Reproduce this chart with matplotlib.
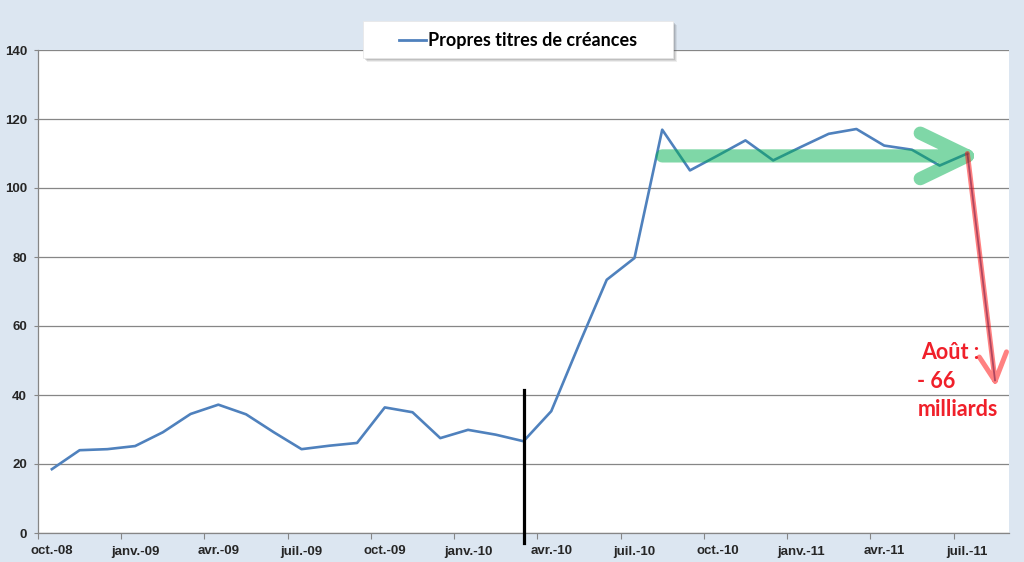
import numpy as np
import matplotlib
matplotlib.use('Agg')
import matplotlib.pyplot as plt
from matplotlib.patches import Rectangle
from matplotlib.lines import Line2D

plt.rcParams['font.family'] = ['Liberation Sans', 'DejaVu Sans']

# data (monthly, oct.-08 .. juil.-11)
values = [18.5, 24.0, 24.3, 25.2, 29.2, 34.5, 37.2, 34.4, 29.2, 24.3,
          25.3, 26.1, 36.4, 35.0, 27.5, 29.9, 28.5, 26.6, 35.3, 54.6,
          73.4, 79.7, 116.9, 105.1, 109.4, 113.8, 108.0, 111.9, 115.7, 117.1,
          112.3, 111.1, 106.5, 110.0]
tick_labels = ['oct.-08', 'janv.-09', 'avr.-09', 'juil.-09', 'oct.-09', 'janv.-10',
               'avr.-10', 'juil.-10', 'oct.-10', 'janv.-11', 'avr.-11', 'juil.-11']
series_name = 'Propres titres de créances'
n_cats = 35          # one empty month (août-11) at the end
marker_month = 17    # mars-10
plateau = 109.3
plateau_start = 22.0
drop = -66
note_lines = ['Août :', '- 66', 'milliards']

blue = '#4f81bd'
grid_c = '#868686'

fig = plt.figure(figsize=(10.24, 5.62), dpi=100, facecolor='#dce6f1')
ax = fig.add_axes([38 / 1024, 1 - 533 / 562, 971 / 1024, 483 / 562])
ax.set_facecolor('white')

x = np.arange(len(values))
ax.plot(x, values, color=blue, lw=1.9, zorder=3, solid_joinstyle='round')

ax.set_xlim(-0.5, n_cats - 0.5)
ax.set_ylim(0, 140)

# y axis
ax.set_yticks(np.arange(0, 141, 20))
ax.yaxis.grid(True, color=grid_c, lw=0.9)
ax.set_axisbelow(True)
ax.tick_params(axis='y', length=3, width=0.8, color=grid_c, pad=5,
               labelsize=9.5, labelcolor='#262626')
for t in ax.get_yticklabels():
    t.set_fontweight('bold')

# x axis: marks between categories, labels on categories
ax.set_xticks(np.arange(-0.5, n_cats - 1, 3))
ax.set_xticklabels([])
ax.set_xticks(np.arange(0, len(values), 3), minor=True)
ax.set_xticklabels(tick_labels, minor=True, fontsize=9.5, fontweight='bold', color='#262626')
ax.tick_params(axis='x', which='major', length=4, width=0.8, color=grid_c)
ax.tick_params(axis='x', which='minor', length=0, pad=9)

for s in ['top', 'right']:
    ax.spines[s].set_visible(False)
for s in ['left', 'bottom']:
    ax.spines[s].set_color(grid_c)
    ax.spines[s].set_linewidth(0.9)

# vertical marker
ax.plot([marker_month, marker_month], [-3, 41.5], color='black', lw=2.3,
        clip_on=False, zorder=5)

# green arrow (plateau): shaft + chevron as one path
tip = len(values) - 1
gx = [plateau_start, tip, np.nan, tip - 1.7, tip, tip - 1.7]
gy = [plateau, plateau, np.nan, plateau + 6.6, plateau, plateau - 6.6]
ax.plot(gx, gy, color='#00b050', alpha=0.5, lw=9.5, solid_capstyle='round',
        solid_joinstyle='round', zorder=4)

# red arrow (August drop)
last = values[-1]
end = last + drop
rx = [tip, tip + 1, np.nan, tip + 0.43, tip + 1, tip + 1.41]
ry = [last, end, np.nan, end + 7.0, end, end + 8.5]
ax.plot(rx, ry, color='#ff1a1a', alpha=0.55, lw=3.6, solid_capstyle='round',
        solid_joinstyle='round', zorder=6, clip_on=False)
ax.plot([tip, tip + 1], [last, end], color='#7a1f4a', lw=1.3, alpha=0.6,
        zorder=6, solid_capstyle='butt')

for k, line in enumerate(note_lines):
    ax.text(31.2 + (0.12 if k == 0 else 0), 50.4 - 8.3 * k, line, color='#f0202a',
            fontsize=15.5, fontweight='bold', family=['Lato', 'DejaVu Sans'],
            ha='left', va='baseline', zorder=7)

# legend box drawn by hand
W, H = 1024, 562
bx, by, bw, bh = 363, 58, 310, 37
for k, a in enumerate([0.10, 0.14, 0.18]):
    off = 3.5 - k
    fig.add_artist(Rectangle(((bx + off) / W, 1 - (by + off) / H), bw / W, bh / H,
                             transform=fig.transFigure, facecolor='#555555',
                             edgecolor='none', alpha=a))
fig.add_artist(Rectangle((bx / W, 1 - by / H), bw / W, bh / H, transform=fig.transFigure,
                         facecolor='white', edgecolor='#e6e6e6', lw=0.5))
fig.add_artist(Line2D([399 / W, 426 / W], [1 - 39.5 / H, 1 - 39.5 / H],
                      transform=fig.transFigure, color=blue, lw=2))
fig.text(428 / W, 1 - 45.7 / H, series_name, fontsize=13, fontweight='bold',
         family=['Liberation Sans Narrow', 'Lato', 'DejaVu Sans'], ha='left',
         va='baseline')

fig.savefig('out.png', dpi=100, facecolor=fig.get_facecolor())
